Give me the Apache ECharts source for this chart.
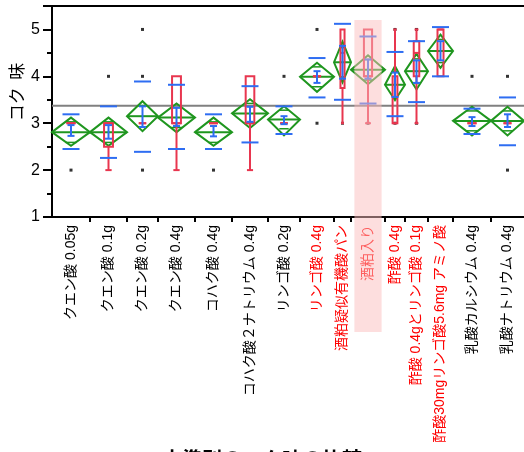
<!DOCTYPE html>
<html>
<head>
<meta charset="utf-8">
<script src="https://cdn.jsdelivr.net/npm/echarts@6/dist/echarts.min.js"></script>
<style>
html,body{margin:0;padding:0;background:#fff;}
#chart{width:524px;height:452px;}
</style>
</head>
<body>
<div id="chart"></div>
<script>
// 水準名
var names = ['クエン酸 0.05g','クエン酸 0.1g','クエン酸 0.2g','クエン酸 0.4g','コハク酸 0.4g',
  'コハク酸２ナトリウム 0.4g','リンゴ酸 0.2g','リンゴ酸 0.4g','酒粕疑似有機酸パン','酒粕入り',
  '酢酸 0.4g','酢酸 0.4gとリンゴ酸 0.1g','酢酸30mgリンゴ酸5.6mg アミノ酸','乳酸カルシウム 0.4g','乳酸ナトリウム 0.4g'];
var redLabel = [0,0,0,0,0,0,0,1,1,1,1,1,1,0,0];
var groupN = [38,37,31,37,37,36,32,34,17,34,20,23,25,38,33];   // 各水準の幅(人数比)
// 平均・95%信頼区間
var means  = [2.81,2.81,3.15,3.12,2.81,3.21,3.08,3.99,4.30,4.14,3.82,4.11,4.54,3.05,3.05];
var ciLow  = [2.52,2.52,2.83,2.81,2.52,2.90,2.74,3.67,3.87,3.83,3.49,3.72,4.18,2.74,2.74];
var ciHigh = [3.12,3.12,3.47,3.42,3.12,3.51,3.36,4.29,4.74,4.45,4.22,4.48,4.89,3.35,3.35];
// 平均の標準誤差
var seLow  = [2.73,2.67,2.92,2.94,2.72,3.03,2.98,3.86,3.95,3.95,3.56,3.86,4.34,2.94,2.92];
var seHigh = [2.96,2.96,3.36,3.33,2.94,3.35,3.15,4.11,4.65,4.36,4.08,4.34,4.75,3.13,3.19];
// 標準偏差
var sdLow  = [2.45,2.26,2.39,2.45,2.45,2.59,2.77,3.55,3.50,3.42,3.15,3.45,4.00,2.77,2.53];
var sdHigh = [3.19,3.36,3.89,3.82,3.19,3.79,3.36,4.39,5.12,4.85,4.52,4.75,5.05,3.31,3.55];
// 箱ひげ図
var q1     = [3,2.5,3,3,3,3,3,4,3.75,4,3,4,4,3,3];
var median = [3,3,3,3,3,3,3,4,4.5,4,3,4.5,5,3,3];
var q3     = [3,3,3,4,3,4,3,4,5,5,4,4.75,5,3,3];
var whLow  = [3,2,3,2,3,2,3,4,3,3,3,3,4,3,3];
var whHigh = [3,3,3,4,3,4,3,4,5,5,5,5,5,3,3];
var outliers = [[2],[4],[5,4,2],[],[2],[],[4],[5,3],[3],[3],[5,3],[5,3],[],[4],[4,2]];
var grandMean = 3.37;
var highlight = 9;

var green = '#1f961f', red = '#e8364f', blue = '#2e6df2';

var starts = [], centers = [], bounds = [];
var acc = 0;
for (var i = 0; i < groupN.length; i++) {
    starts.push(acc);
    centers.push(acc + groupN[i] / 2);
    acc += groupN[i];
    if (i < groupN.length - 1) bounds.push(acc);
}
var total = acc;

function nearest(v) {
    v = parseFloat(v);
    var best = 0;
    for (var i = 1; i < centers.length; i++) {
        if (Math.abs(centers[i] - v) < Math.abs(centers[best] - v)) best = i;
    }
    return best;
}

function hline(a, b, color, w) {
    return {type: 'line', shape: {x1: a[0], y1: a[1], x2: b[0], y2: b[1]}, style: {stroke: color, lineWidth: w || 2}};
}

function renderGroup(params, api) {
    var i = api.value(0);
    var x0 = starts[i], x1 = starts[i] + groupN[i], xc = centers[i];
    var pxW = api.size([groupN[i], 0])[0];
    var c = function (y) { return api.coord([xc, y]); };
    var ch = [];
    // 平均ダイヤモンド
    var top = c(ciHigh[i]), bot = c(ciLow[i]), l = api.coord([x0, means[i]]), r = api.coord([x1, means[i]]);
    ch.push({type: 'polygon', shape: {points: [l, top, r, bot]}, style: {fill: 'none', stroke: green, lineWidth: 2}});
    ch.push(hline(l, r, green));
    var h = (ciHigh[i] - means[i]) / Math.SQRT2;
    var hw = pxW / 2 * (1 - 1 / Math.SQRT2);
    [means[i] + h, means[i] - h].forEach(function (y) {
        var p = c(y);
        ch.push(hline([p[0] - hw, p[1]], [p[0] + hw, p[1]], green, 1.5));
    });
    // 箱ひげ
    var bw = pxW * 0.24, cw = pxW * 0.17;
    var pq1 = c(q1[i]), pq3 = c(q3[i]), pm = c(median[i]), pl = c(whLow[i]), ph = c(whHigh[i]);
    ch.push(hline(pq1, pl, red));
    ch.push(hline(pq3, ph, red));
    if (whLow[i] < q1[i]) ch.push(hline([pl[0] - cw / 2, pl[1]], [pl[0] + cw / 2, pl[1]], red));
    if (whHigh[i] > q3[i]) ch.push(hline([ph[0] - cw / 2, ph[1]], [ph[0] + cw / 2, ph[1]], red));
    ch.push({type: 'rect', shape: {x: pq3[0] - bw / 2, y: pq3[1], width: bw, height: pq1[1] - pq3[1]},
        style: {fill: 'none', stroke: red, lineWidth: 2}});
    ch.push(hline([pm[0] - bw / 2, pm[1]], [pm[0] + bw / 2, pm[1]], red));
    // 標準偏差
    [sdLow[i], sdHigh[i]].forEach(function (y) {
        var p = c(y);
        ch.push(hline([p[0] - 8.5, p[1]], [p[0] + 8.5, p[1]], blue));
    });
    // 標準誤差
    var sl = c(seLow[i]), sh = c(seHigh[i]);
    ch.push(hline(sl, sh, blue));
    ch.push(hline([sl[0] - 3.5, sl[1]], [sl[0] + 3.5, sl[1]], blue));
    ch.push(hline([sh[0] - 3.5, sh[1]], [sh[0] + 3.5, sh[1]], blue));
    return {type: 'group', children: ch};
}

function renderBand(params, api) {
    var a = api.coord([centers[highlight] - groupN[highlight] * 0.4, 5.2]);
    var b = api.coord([centers[highlight] + groupN[highlight] * 0.4, 1]);
    return {type: 'rect', shape: {x: a[0], y: a[1], width: b[0] - a[0], height: b[1] + 115 - a[1]},
        style: {fill: 'rgba(251,190,190,0.5)'}};
}

var pts = [];
outliers.forEach(function (arr, i) {
    arr.forEach(function (v) { pts.push([centers[i], v]); });
});

var chart = echarts.init(document.getElementById('chart'));
var option = {
    animation: false,
    textStyle: {fontFamily: 'Liberation Sans, Noto Sans CJK JP'},
    grid: {left: 52, right: 0, top: 6, bottom: 235, containLabel: false, outerBoundsMode: 'none'},
    xAxis: [{
        type: 'value', min: 0, max: total,
        splitLine: {show: false},
        axisLine: {show: true, onZero: false, lineStyle: {color: '#000', width: 2}},
        axisTick: {show: true, length: 5, customValues: bounds, lineStyle: {color: '#000', width: 2}},
        axisLabel: {
            customValues: centers, rotate: 90, margin: 8, fontSize: 14,
            fontFamily: 'Liberation Sans, Noto Sans CJK JP',
            formatter: function (v) { return names[nearest(v)]; },
            color: function (v) { return redLabel[nearest(v)] ? '#ff0000' : '#000'; }
        }
    }, {
        type: 'value', min: 0, max: total, position: 'top',
        splitLine: {show: false}, axisTick: {show: false}, axisLabel: {show: false},
        axisLine: {show: true, onZero: false, lineStyle: {color: '#000', width: 2}}
    }],
    yAxis: {
        type: 'value', min: 1, max: 5.5, interval: 1,
        splitLine: {show: false},
        axisLine: {show: true, lineStyle: {color: '#000', width: 2}},
        axisTick: {show: true, length: 9, lineStyle: {color: '#000', width: 2}},
        minorTick: {show: true, splitNumber: 2, length: 5, lineStyle: {color: '#000', width: 2}},
        axisLabel: {fontSize: 16, color: '#000', margin: 12, showMaxLabel: false,
            fontFamily: 'Liberation Sans'}
    },
    graphic: [{
        type: 'text', x: 17, y: 92, rotation: Math.PI / 2,
        style: {text: 'コク  味', fontSize: 17, fill: '#000', textAlign: 'center', textVerticalAlign: 'middle',
            fontFamily: 'Noto Sans CJK JP'}
    }, {
        type: 'text', x: 262, y: 449,
        style: {text: '水準別のコク味の比較', fontSize: 20, fontWeight: 'bold', fill: '#000', textAlign: 'center',
            textVerticalAlign: 'top', fontFamily: 'Noto Sans CJK JP'}
    }],
    series: [{
        type: 'line', data: [[0, grandMean], [total, grandMean]], symbol: 'none', z: 1,
        lineStyle: {color: '#808080', width: 2}
    }, {
        type: 'scatter', data: pts, symbol: 'rect', symbolSize: 3, z: 2,
        itemStyle: {color: '#000'}
    }, {
        type: 'custom', renderItem: renderGroup, z: 3,
        data: names.map(function (n, i) { return [i]; })
    }, {
        type: 'custom', renderItem: renderBand, z: 10, clip: false, silent: true,
        data: [[highlight]]
    }]
};
chart.setOption(option);
</script>
</body>
</html>
